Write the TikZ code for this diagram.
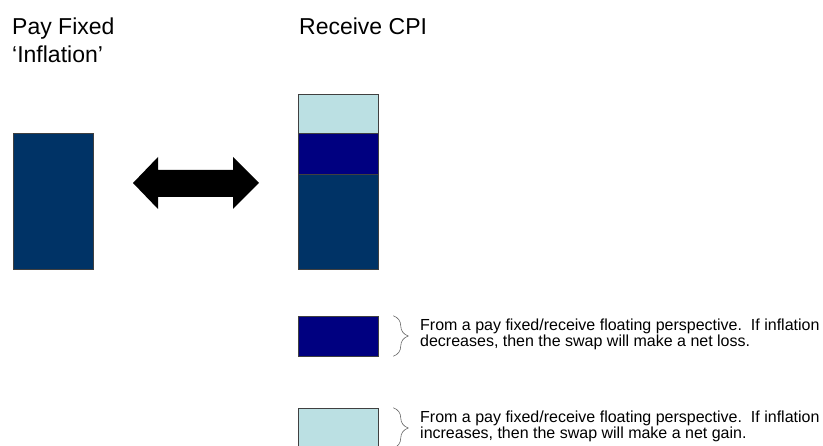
\documentclass[tikz,border=0pt]{standalone}
\usepackage{fontspec}
\setmainfont{Liberation Sans}
\usetikzlibrary{decorations.pathreplacing}
\definecolor{swapblue}{RGB}{0,51,102}
\definecolor{swapnavy}{RGB}{0,0,128}
\definecolor{swaplight}{RGB}{187,224,227}

\begin{document}
\begin{tikzpicture}[x=1pt, y=-1pt,
  box/.style={draw=black!75, line width=0.5pt, inner sep=0pt, minimum width=80pt},
  title/.style={anchor=base west, align=left, inner sep=0pt, font=\fontsize{23}{28}\selectfont},
  note/.style={anchor=base west, align=left, inner sep=0pt, font=\fontsize{16}{16}\selectfont},
  curly/.style={draw=black!60, line width=0.6pt, decorate, decoration={brace, amplitude=15pt}}]

\useasboundingbox (0,0) rectangle (823,446);

% titles (base = last line)
\node[title] (pay) at (12,63) {Pay Fixed\\‘Inflation’};
\node[title] (rec) at (299,35) {Receive CPI};

% fixed leg
\node[box, fill=swapblue, minimum height=136pt] (fixed) at (53,201) {};

% CPI leg
\node[box, fill=swaplight, minimum height=39pt] (up)   at (338.5,113.5) {};
\node[box, fill=swapnavy,  minimum height=41pt] (down) at (338.5,153.5) {};
\node[box, fill=swapblue,  minimum height=95pt] (base) at (338.5,221.5) {};

% swap arrow
\fill (133,183) -- ++(25,-26) -- ++(0,13) -- ++(75,0) -- ++(0,-13) -- ++(26,26)
  -- ++(-26,26) -- ++(0,-12) -- ++(-75,0) -- ++(0,12) -- cycle;

% legend
\node[box, fill=swapnavy,  minimum height=40pt] (lossbox) at (338,336) {};
\node[box, fill=swaplight, minimum height=40pt] (gainbox) at (338,428) {};

\draw[curly] ([xshift=15pt]lossbox.north east) -- ([xshift=15pt]lossbox.south east);
\draw[curly] ([xshift=15pt]gainbox.north east) -- ([xshift=15pt]gainbox.south east);

\node[note] (loss) at (420,347) {From a pay fixed/receive floating perspective.\ \ If inflation\\decreases, then the swap will make a net loss.};
\node[note] (gain) at (420,439) {From a pay fixed/receive floating perspective.\ \ If inflation\\increases, then the swap will make a net gain.};

\end{tikzpicture}
\end{document}
